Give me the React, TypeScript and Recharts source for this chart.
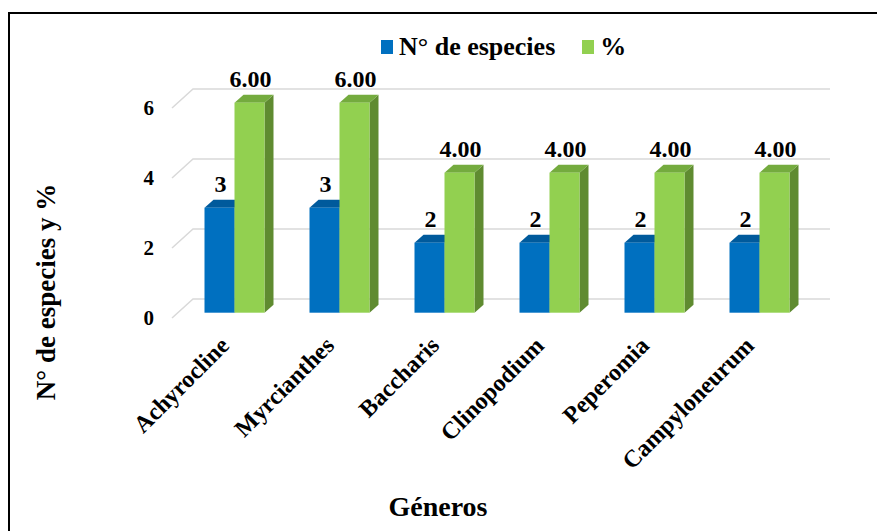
import { BarChart, Bar, XAxis, YAxis, CartesianGrid, LabelList } from "recharts";

const generos = ["Achyrocline", "Myrcianthes", "Baccharis", "Clinopodium", "Peperomia", "Campyloneurum"];
const especies = [3, 3, 2, 2, 2, 2];
const porcentaje = [6, 6, 4, 4, 4, 4];
const yTicks = [0, 2, 4, 6];

const data = generos.map((g, i) => ({ genero: g, especies: especies[i], pct: porcentaje[i] }));

const FONT = '"Liberation Serif"';
const txt = { fontFamily: FONT, fontWeight: "bold" as const };
const BLUE = "#0070C0";
const GREEN = "#92D050";

// 3d look: bar sits a bit behind the front plane, then depth faces
const SHIFT_X = 5.5;
const SHIFT_Y = -5.3;
const DEP_X = 9;
const DEP_Y = -8;

function Bar3D(props: any) {
  const { x, y, width, height, fill, top, side } = props;
  if (height == null || height <= 0) return null;
  const fx = x + SHIFT_X;
  const fy = y + SHIFT_Y;
  const topPts = `${fx},${fy} ${fx + DEP_X},${fy + DEP_Y} ${fx + width + DEP_X},${fy + DEP_Y} ${fx + width},${fy}`;
  const sidePts = `${fx + width},${fy} ${fx + width + DEP_X},${fy + DEP_Y} ${fx + width + DEP_X},${fy + height + DEP_Y} ${fx + width},${fy + height}`;
  return (
    <g>
      <polygon points={sidePts} fill={side} />
      <polygon points={topPts} fill={top} />
      <rect x={fx} y={fy} width={width} height={height} fill={fill} />
    </g>
  );
}

function gridLine(p: any) {
  const { x1, y1, x2, key } = p;
  const d = `M${x1 - 4},${y1} L${x1 + 17},${y1 - 19} L${x2 + 24},${y1 - 19}`;
  return <path key={key} d={d} stroke="#D9D9D9" strokeWidth={1.5} fill="none" />;
}

function YTick(p: any) {
  const { y, payload } = p;
  return (
    <text x={154} y={y + 7} textAnchor="end" style={{ ...txt, fontSize: 21 }} fill="#000">
      {payload.value}
    </text>
  );
}

function XTick(p: any) {
  const { x, y, payload } = p;
  return (
    <text
      transform={`translate(${x + 2},${y + 29}) rotate(-45)`}
      textAnchor="end"
      style={{ ...txt, fontSize: 24 }}
      fill="#000"
    >
      {payload.value}
    </text>
  );
}

const valueLabel = (digits: number) => (p: any) => {
  const { x, y, width, value } = p;
  return (
    <text
      x={x + width / 2 + SHIFT_X + 1}
      y={y + SHIFT_Y - 16}
      textAnchor="middle"
      style={{ ...txt, fontSize: 24 }}
      fill="#000"
    >
      {Number(value).toFixed(digits)}
    </text>
  );
};

function LegendBox() {
  const item = (color: string, label: string, gap: number) => (
    <span style={{ display: "inline-flex", alignItems: "center", marginRight: gap }}>
      <span style={{ width: 12, height: 14, background: color, display: "inline-block", marginRight: 6 }} />
      <span>{label}</span>
    </span>
  );
  return (
    <div
      style={{
        position: "absolute",
        left: 381,
        top: 30,
        ...txt,
        fontSize: 26,
        color: "#000",
        whiteSpace: "nowrap",
        lineHeight: "32px",
      }}
    >
      {item(BLUE, "N° de especies", 27)}
      {item(GREEN, "%", 0)}
    </div>
  );
}

export default function App() {
  return (
    <div style={{ position: "absolute", left: 0, top: 0, width: 877, height: 531, background: "#fff", overflow: "hidden" }}>
      <div
        style={{
          position: "absolute",
          left: 8,
          top: 12,
          width: 900,
          height: 600,
          borderLeft: "2px solid #000",
          borderTop: "2px solid #000",
        }}
      />
      <BarChart
        width={877}
        height={531}
        data={data}
        margin={{ top: 108, right: 71, bottom: 0, left: 0 }}
        barSize={30}
        barGap={0}
        style={{ position: "absolute", left: 0, top: 0 }}
      >
        <CartesianGrid vertical={false} horizontal={gridLine} />
        <XAxis
          dataKey="genero"
          axisLine={false}
          tickLine={false}
          tickSize={0}
          tickMargin={0}
          height={213}
          interval={0}
          tick={<XTick />}
          label={{
            content: () => (
              <text x={438} y={516} textAnchor="middle" style={{ ...txt, fontSize: 28 }} fill="#000">
                Géneros
              </text>
            ),
          }}
        />
        <YAxis
          domain={[0, 6]}
          ticks={yTicks}
          axisLine={false}
          tickLine={false}
          tickSize={0}
          width={176}
          tick={<YTick />}
          label={{
            content: () => (
              <text
                transform="translate(55,292) rotate(-90)"
                textAnchor="middle"
                style={{ ...txt, fontSize: 27 }}
                fill="#000"
              >
                N° de especies y %
              </text>
            ),
          }}
        />
        <Bar
          dataKey="especies"
          name="N° de especies"
          fill={BLUE}
          isAnimationActive={false}
          shape={(p: any) => <Bar3D {...p} fill={BLUE} top="#005A9C" side="#00558F" />}
        >
          <LabelList dataKey="especies" content={valueLabel(0)} />
        </Bar>
        <Bar
          dataKey="pct"
          name="%"
          fill={GREEN}
          isAnimationActive={false}
          shape={(p: any) => <Bar3D {...p} fill={GREEN} top="#74AB3E" side="#5F8B30" />}
        >
          <LabelList dataKey="pct" content={valueLabel(2)} />
        </Bar>
      </BarChart>
      <LegendBox />
    </div>
  );
}
